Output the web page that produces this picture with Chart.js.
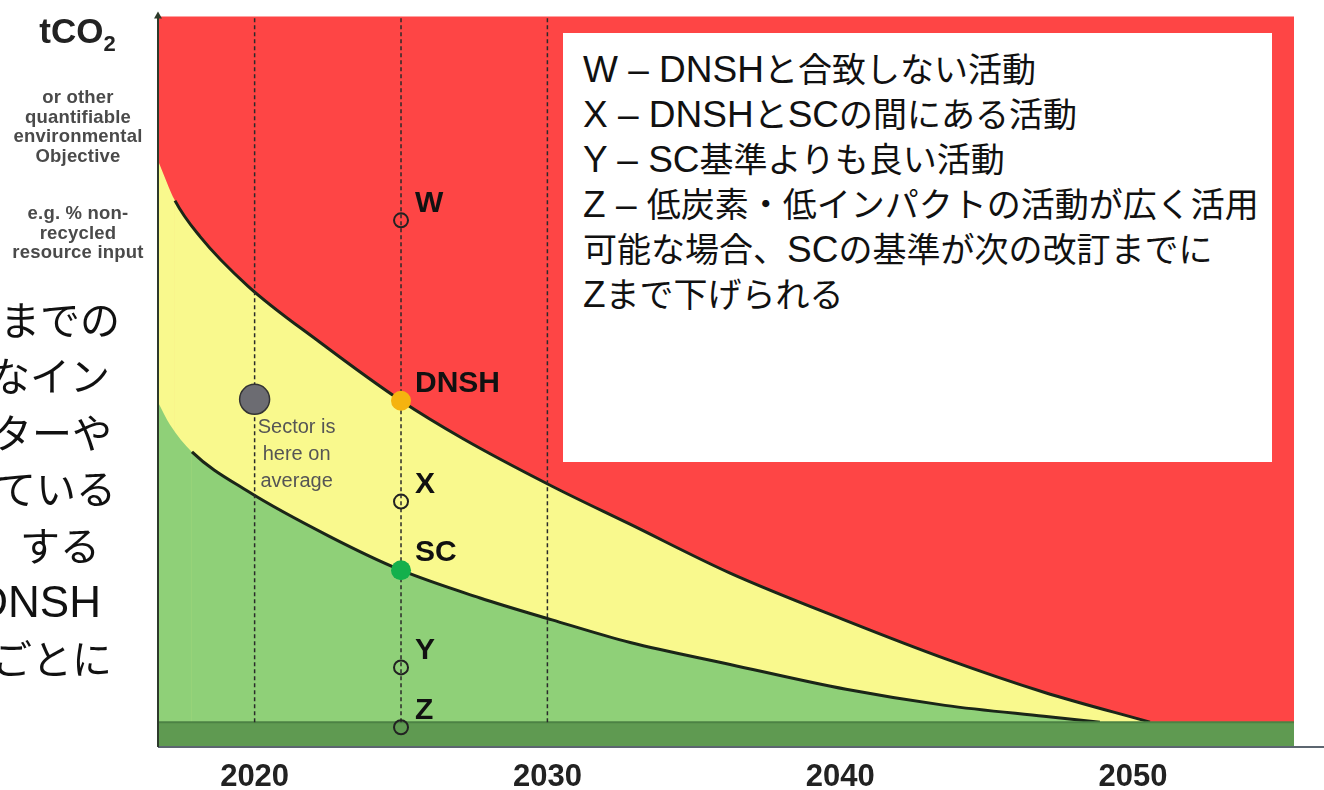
<!DOCTYPE html>
<html><head><meta charset="utf-8">
<script src="https://cdn.jsdelivr.net/npm/chart.js@4.4.1/dist/chart.umd.min.js"></script>
<style>
html,body{margin:0;padding:0;background:#fff;}
#wrap{position:relative;width:1324px;height:790px;overflow:hidden;background:#fff;}
#c{position:absolute;left:0;top:0;}
.abs{position:absolute;white-space:nowrap;}
.lt{font-family:"Noto Sans CJK JP",sans-serif;font-size:40px;color:#111;height:56px;line-height:56px;width:300px;text-align:right;}
.lt .la{font-family:"Liberation Sans",Arial,sans-serif;font-size:44px;}
.gray{font-family:"Liberation Sans",Arial,sans-serif;font-weight:bold;font-size:18.5px;line-height:19.5px;color:#4a4a4a;width:156px;text-align:center;left:0;letter-spacing:0.2px;}
#box{position:absolute;left:563px;top:33px;width:709px;height:429px;background:#fff;}
.bl{position:absolute;left:20px;height:45px;line-height:45px;white-space:nowrap;font-family:"Noto Sans CJK JP",sans-serif;font-size:34px;color:#111;}
.bl .la{font-family:"Liberation Sans",Arial,sans-serif;font-size:37px;}
</style></head>
<body>
<div id="wrap">
<canvas id="c" width="1324" height="790"></canvas>

<div class="abs" style="left:0;top:13px;width:155px;text-align:center;font-family:'Liberation Sans',Arial,sans-serif;font-weight:bold;font-size:35px;line-height:35px;color:#222;">tCO<span style="font-size:22px;position:relative;top:8px;">2</span></div>
<div class="abs gray" style="top:87px;">or other<br>quantifiable<br>environmental<br>Objective</div>
<div class="abs gray" style="top:203px;">e.g. % non-<br>recycled<br>resource input</div>

<div class="abs lt" style="left:-180px;top:290px;">までの</div>
<div class="abs lt" style="left:-190px;top:346px;">なイン</div>
<div class="abs lt" style="left:-188px;top:403px;">ターや</div>
<div class="abs lt" style="left:-184px;top:459px;">ている</div>
<div class="abs lt" style="left:-200px;top:516px;">する</div>
<div class="abs lt" style="left:-199px;top:572px;"><span class="la">DNSH</span></div>
<div class="abs lt" style="left:-188px;top:629px;">ごとに</div>

<div id="box">
  <div class="bl" style="top:12px;"><span class="la">W – DNSH</span>と合致しない活動</div>
  <div class="bl" style="top:57px;"><span class="la">X – DNSH</span>と<span class="la">SC</span>の間にある活動</div>
  <div class="bl" style="top:102px;"><span class="la">Y – SC</span>基準よりも良い活動</div>
  <div class="bl" style="top:147px;"><span class="la">Z – </span>低炭素・低インパクトの活動が広く活用</div>
  <div class="bl" style="top:192px;">可能な場合、<span class="la">SC</span>の基準が次の改訂までに</div>
  <div class="bl" style="top:237px;"><span class="la">Z</span>まで下げられる</div>
</div>
</div>

<script>
// ---------- data ----------
const xTickYears = [2020, 2030, 2040, 2050];
const guideYears = [2020, 2025, 2030];

const dnshYears  = [2016.70, 2017.28, 2018.13, 2019.77, 2022.23, 2025.00, 2027.12, 2030.16, 2032.82, 2036.24, 2040.20, 2043.58, 2046.96, 2050.58];
const dnshValues = [80.3, 74.8, 69.9, 63.1, 55.4, 47.4, 42.2, 35.7, 30.5, 23.8, 17.3, 12.1, 7.5, 3.4];

const scYears  = [2016.70, 2017.11, 2017.86, 2019.77, 2022.57, 2025.00, 2027.70, 2030.16, 2032.83, 2036.24, 2040.20, 2043.58, 2046.96, 2048.87];
const scValues = [47.2, 44.1, 40.4, 35.0, 28.8, 24.2, 20.4, 17.4, 14.3, 11.3, 7.9, 5.7, 4.2, 3.4];

const baselineYears = [2016.7, 2055.5];
const baselineValue = 3.4;

const markerNames  = ['W', 'DNSH', 'X', 'SC', 'Y', 'Z'];
const markerYears  = [2025, 2025, 2025, 2025, 2025, 2025];
const markerValues = [72.1, 47.4, 33.6, 24.2, 10.9, 2.7];

const sectorYear  = [2020];
const sectorValue = [47.6];
const sectorNote  = ['Sector is', 'here on', 'average'];

const X_MIN = 2016.7, X_MAX = 2055.5, Y_MIN = 0, Y_MAX = 100;

// ---------- styles ----------
const RED = '#fe4545', YELLOW = '#f9f98d', GREEN = '#8fd078', DARKGREEN = '#5f9a51', LINE = '#1b2618';
const pts = (xs, ys) => xs.map((x, i) => ({x, y: ys[i]}));
const hideFirst = n => ({ borderColor: c => (c.p0DataIndex < n ? 'rgba(0,0,0,0)' : LINE) });

const datasets = [
  { label: 'DNSH', data: pts(dnshYears, dnshValues), order: 50, fill: 'origin',
    backgroundColor: YELLOW, borderColor: LINE, borderWidth: 3, pointRadius: 0,
    cubicInterpolationMode: 'monotone', segment: hideFirst(1) },
  { label: 'SC', data: pts(scYears, scValues), order: 40, fill: 'origin',
    backgroundColor: GREEN, borderColor: LINE, borderWidth: 3, pointRadius: 0,
    cubicInterpolationMode: 'monotone', segment: hideFirst(2) },
  { label: 'base', data: pts(baselineYears, [baselineValue, baselineValue]), order: 30, fill: 'origin',
    backgroundColor: DARKGREEN, borderColor: '#4c8244', borderWidth: 2, pointRadius: 0 },
];
guideYears.forEach((yr, i) => datasets.push({
  label: 'guide' + i, data: pts([yr, yr], [baselineValue, Y_MAX]), order: 20, fill: false,
  borderColor: '#2a2a2a', borderWidth: 1.5, borderDash: [4, 3], pointRadius: 0
}));
datasets.push({
  label: 'sector', data: pts(sectorYear, sectorValue), order: 12, showLine: false,
  pointRadius: 15, pointBackgroundColor: '#6c6c72', pointBorderColor: '#333', pointBorderWidth: 1.5
});
datasets.push({
  label: 'markers', data: pts(markerYears, markerValues), order: 10, showLine: false,
  pointRadius: [7, 10, 7, 10, 7, 7],
  pointBackgroundColor: ['rgba(0,0,0,0)', '#f5b30f', 'rgba(0,0,0,0)', '#14b04c', 'rgba(0,0,0,0)', 'rgba(0,0,0,0)'],
  pointBorderColor: ['#222', '#f5b30f', '#222', '#14b04c', '#222', '#222'],
  pointBorderWidth: [2, 0, 2, 0, 2, 2], clip: false
});

const bgPlugin = {
  id: 'bg',
  beforeDatasetsDraw(chart) {
    const {ctx, chartArea: a} = chart;
    ctx.save(); ctx.fillStyle = RED;
    ctx.fillRect(a.left, a.top, a.right - a.left, a.bottom - a.top);
    ctx.restore();
  }
};

const labelPlugin = {
  id: 'labels',
  afterDatasetsDraw(chart) {
    const ctx = chart.ctx;
    const mIdx = chart.data.datasets.findIndex(d => d.label === 'markers');
    const sIdx = chart.data.datasets.findIndex(d => d.label === 'sector');
    ctx.save();
    ctx.font = 'bold 30px "Liberation Sans", Arial, sans-serif';
    ctx.fillStyle = '#111'; ctx.textAlign = 'left'; ctx.textBaseline = 'middle';
    chart.getDatasetMeta(mIdx).data.forEach((el, i) => {
      ctx.fillText(markerNames[i], el.x + 14, el.y - 17);
    });
    ctx.font = '20px "Liberation Sans", Arial, sans-serif';
    ctx.fillStyle = '#555'; ctx.textAlign = 'center';
    const s = chart.getDatasetMeta(sIdx).data[0];
    sectorNote.forEach((t, i) => ctx.fillText(t, s.x + 42, s.y + 28 + 27 * i));
    ctx.restore();
  }
};

const axisPlugin = {
  id: 'axes',
  afterDraw(chart) {
    const {ctx, chartArea: a} = chart;
    ctx.save();
    ctx.strokeStyle = '#5c6670'; ctx.lineWidth = 2;
    ctx.beginPath(); ctx.moveTo(a.left, a.bottom); ctx.lineTo(chart.width, a.bottom); ctx.stroke();
    ctx.strokeStyle = '#2d3a2b'; ctx.lineWidth = 2;
    ctx.beginPath(); ctx.moveTo(a.left, a.top - 2); ctx.lineTo(a.left, a.bottom); ctx.stroke();
    ctx.fillStyle = '#2d3a2b';
    ctx.beginPath(); ctx.moveTo(a.left - 4, a.top + 2); ctx.lineTo(a.left, a.top - 5); ctx.lineTo(a.left + 4, a.top + 2); ctx.closePath(); ctx.fill();
    ctx.restore();
  }
};

new Chart(document.getElementById('c'), {
  type: 'line',
  data: { datasets },
  options: {
    responsive: false, animation: false, events: [],
    layout: { padding: { left: 158, right: 30, top: 8, bottom: 0 } },
    plugins: { legend: { display: false }, tooltip: { enabled: false } },
    scales: {
      x: {
        type: 'linear', min: X_MIN, max: X_MAX,
        grid: { display: false, drawTicks: false }, border: { display: false },
        afterBuildTicks: sc => { sc.ticks = xTickYears.map(v => ({ value: v })); },
        afterFit: sc => { sc.height = 43; },
        ticks: { padding: 12, color: '#222', maxRotation: 0, autoSkip: false,
          font: { family: '"Liberation Sans", Arial, sans-serif', weight: 'bold', size: 31 },
          callback: v => String(v) }
      },
      y: { type: 'linear', min: Y_MIN, max: Y_MAX, display: false }
    }
  },
  plugins: [bgPlugin, labelPlugin, axisPlugin]
});
</script>
</body></html>
